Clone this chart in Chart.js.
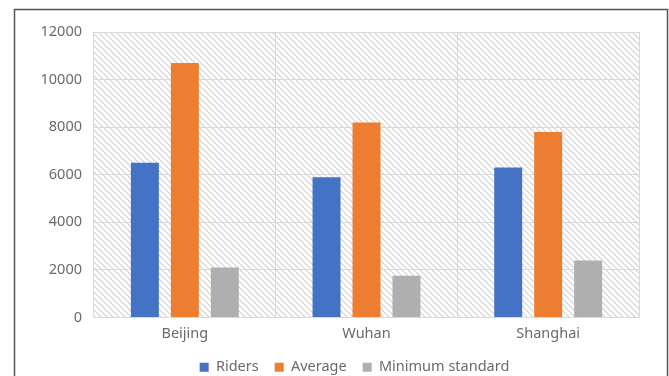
<!DOCTYPE html>
<html>
<head>
<meta charset="utf-8">
<script src="https://cdn.jsdelivr.net/npm/chart.js@4/dist/chart.umd.min.js"></script>
<style>
  html, body { margin: 0; padding: 0; background: #fff; overflow: hidden; width: 669px; height: 376px; }
  canvas { display: block; }
</style>
</head>
<body>
<canvas id="chart" width="669" height="392"></canvas>
<script>
// Monthly income by city (yuan)
const cities = ['Beijing', 'Wuhan', 'Shanghai'];
const riders = [6500, 5900, 6300];
const average = [10700, 8200, 7800];
const minimumStandard = [2100, 1750, 2400];
const yMax = 12000;
const yStep = 2000;

const textColor = '#6a6a6a';
const gridColor = '#d9d9d9';
const fontFamily = '"Noto Sans", "DejaVu Sans", sans-serif';
const fontSize = 14.5;

// Diagonal hatch used as the plot-area background
function makeHatch(ctx) {
  const tile = document.createElement('canvas');
  tile.width = 6; tile.height = 6;
  const t = tile.getContext('2d');
  t.strokeStyle = '#d2d2d2';
  t.lineWidth = 1.2;
  t.lineCap = 'square';
  for (const k of [-6, 0, 6]) {
    t.beginPath();
    t.moveTo(k, 0);
    t.lineTo(k + 6, 6);
    t.stroke();
  }
  return ctx.createPattern(tile, 'repeat');
}

const plotBackground = {
  id: 'plotBackground',
  beforeDraw(chart) {
    const { ctx, chartArea: a } = chart;
    ctx.save();
    ctx.fillStyle = makeHatch(ctx);
    ctx.fillRect(a.left, a.top, a.right - a.left, a.bottom - a.top);
    ctx.restore();
  }
};

// Thin frame around the whole chart
const outerFrame = {
  id: 'outerFrame',
  afterDraw(chart) {
    const { ctx } = chart;
    ctx.save();
    ctx.strokeStyle = '#555555';
    ctx.lineWidth = 1.5;
    ctx.strokeRect(14.5, 9.5, chart.width - 16, chart.height + 20);
    ctx.restore();
  }
};

// Center the legend under the framed area rather than the padded box
const legendShift = {
  id: 'legendShift',
  afterLayout(chart) {
    const lg = chart.legend;
    if (lg) { lg.left += 28; lg.right += 28; }
  }
};

new Chart(document.getElementById('chart'), {
  type: 'bar',
  data: {
    labels: cities,
    datasets: [
      { label: 'Riders', data: riders, backgroundColor: '#4472C4' },
      { label: 'Average', data: average, backgroundColor: '#ED7D31' },
      { label: 'Minimum standard', data: minimumStandard, backgroundColor: '#AFAFAF' }
    ]
  },
  options: {
    responsive: false,
    animation: false,
    devicePixelRatio: 1,
    categoryPercentage: 0.66,
    barPercentage: 0.7,
    layout: { padding: { left: 14, right: 30, top: 32, bottom: 7.5 } },
    scales: {
      x: {
        grid: { offset: true, color: gridColor, drawTicks: false },
        border: { color: gridColor },
        ticks: { color: textColor, font: { family: fontFamily, size: fontSize }, padding: 8 },
        afterFit(scale) { scale.height = 26.5; }
      },
      y: {
        min: 0,
        max: yMax,
        grid: { color: gridColor, drawTicks: false },
        border: { display: false },
        ticks: {
          stepSize: yStep,
          color: textColor,
          font: { family: fontFamily, size: fontSize },
          padding: 12,
          callback: (v) => String(v)
        },
        afterFit(scale) { scale.width = 80; }
      }
    },
    plugins: {
      legend: {
        position: 'bottom',
        labels: {
          boxWidth: 9,
          boxHeight: 9,
          padding: 16,
          color: textColor,
          font: { family: fontFamily, size: fontSize }
        }
      },
      tooltip: { enabled: false }
    }
  },
  plugins: [plotBackground, outerFrame, legendShift]
});
</script>
</body>
</html>
